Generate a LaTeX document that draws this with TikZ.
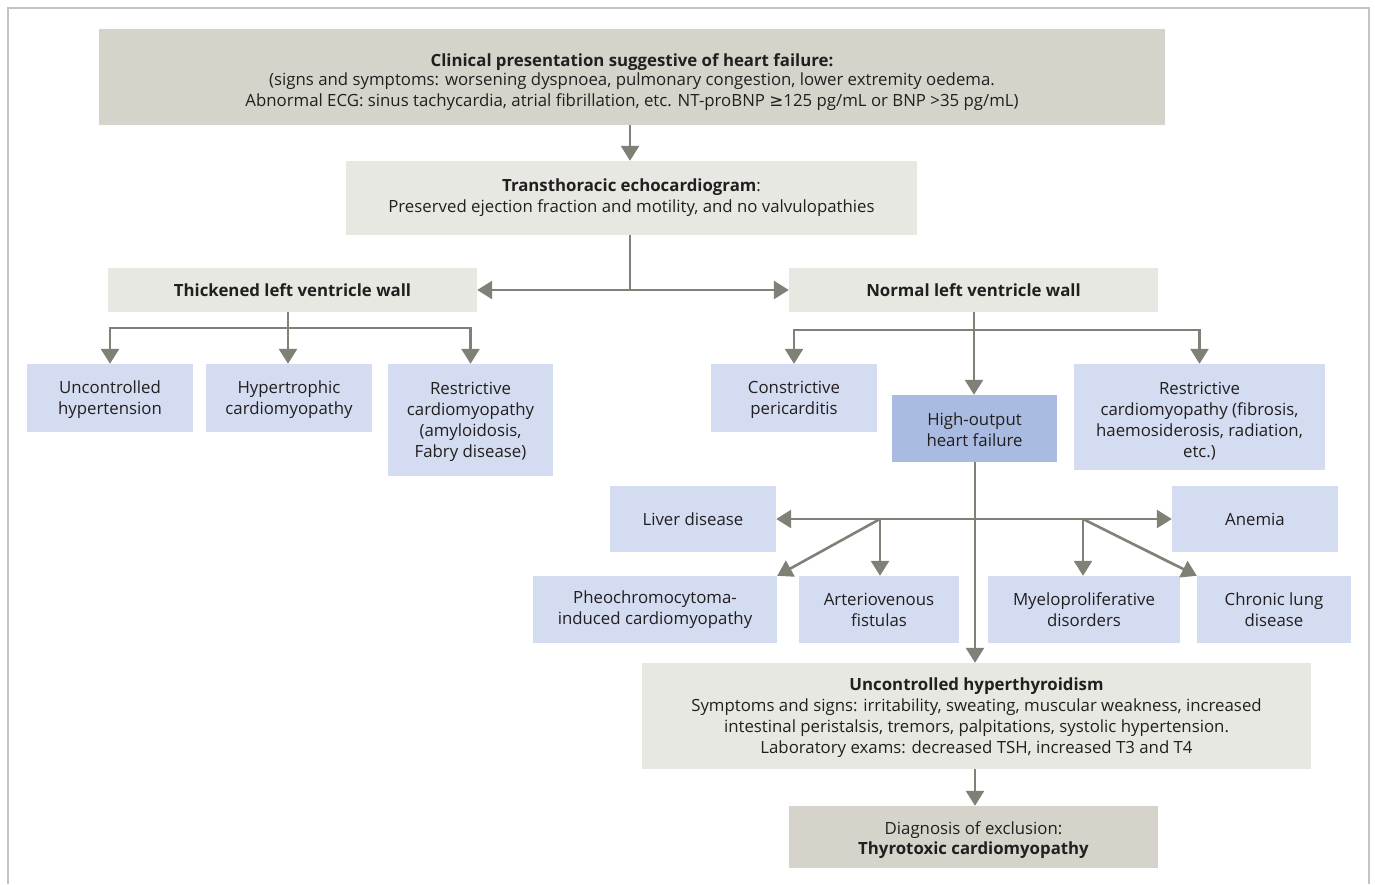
\documentclass[tikz,border=0pt]{standalone}
\usepackage{fontspec}
\setmainfont{Open Sans}
\newfontfamily\symf{DejaVu Sans}
\usetikzlibrary{arrows.meta}
\definecolor{dark}{HTML}{D6D3CB}
\definecolor{light}{HTML}{E8E8E2}
\definecolor{blu}{HTML}{D3DCF0}
\definecolor{blud}{HTML}{A9BBE0}
\definecolor{arrc}{HTML}{7F8177}
\definecolor{framec}{HTML}{C4C4BA}
\definecolor{txt}{HTML}{231F20}
\newcommand{\tsh}[1]{\rule{0pt}{#1pt}}
\tikzset{
  box/.style={inner sep=0pt, align=center, text=txt, font=\fontsize{16.8}{21}\selectfont},
  darkbox/.style={box, fill=dark},
  lightbox/.style={box, fill=light},
  bluebox/.style={box, fill=blu},
  bluedbox/.style={box, fill=blud},
  conn/.style={draw=arrc, line width=2.6pt},
  arr/.style={conn, -{Triangle[width=18pt,length=15pt]}},
  arrs/.style={conn, {Triangle[width=18pt,length=15pt]}-{Triangle[width=18pt,length=15pt]}},
}
\begin{document}
\begin{tikzpicture}[x=1pt,y=-1pt]
\useasboundingbox (0,0) rectangle (1375,884);
\draw[framec, line width=1.5pt] (8,884) -- (8,8) -- (1369,8) -- (1369,884);

\node[darkbox, minimum width=1066pt, minimum height=96pt] (top) at (632,77)
  {\tsh{22.5}\textbf{Clinical presentation suggestive of heart failure:}\\[-2pt]
   (signs and symptoms: worsening dyspnoea, pulmonary congestion, lower extremity oedema.\\
   Abnormal ECG: sinus tachycardia, atrial fibrillation, etc. NT-proBNP {\symf ≥}125 pg/mL or BNP >35 pg/mL)};
\node[lightbox, minimum width=571pt, minimum height=74pt] (echo) at (631.5,198)
  {\textbf{Transthoracic echocardiogram}:\\ Preserved ejection fraction and motility, and no valvulopathies};
\node[lightbox, minimum width=369pt, minimum height=44pt] (thick) at (292.5,290)
  {\textbf{Thickened left ventricle wall}};
\node[lightbox, minimum width=369pt, minimum height=44pt] (normal) at (973.5,290)
  {\textbf{Normal left ventricle wall}};

\node[bluebox, minimum width=166pt, minimum height=68pt] (unc) at (110,398)
  {\tsh{17}Uncontrolled\\hypertension};
\node[bluebox, minimum width=166pt, minimum height=68pt] (hyp) at (289,398)
  {\tsh{17}Hypertrophic\\cardiomyopathy};
\node[bluebox, minimum width=165pt, minimum height=112pt] (restrl) at (470.5,420)
  {\tsh{16.5}Restrictive\\cardiomyopathy\\(amyloidosis,\\Fabry disease)};

\node[bluebox, minimum width=166pt, minimum height=68pt] (constr) at (794,398)
  {\tsh{17}Constrictive\\pericarditis};
\node[bluedbox, minimum width=165pt, minimum height=67pt] (high) at (974.5,428.5)
  {\tsh{14.5}High-output\\heart failure};
\node[bluebox, minimum width=251pt, minimum height=106pt] (restrr) at (1199.5,417)
  {\tsh{20}Restrictive\\cardiomyopathy (fibrosis,\\haemosiderosis, radiation,\\etc.)};

\node[bluebox, minimum width=166pt, minimum height=66pt] (liver) at (693,519) {Liver disease};
\node[bluebox, minimum width=166pt, minimum height=66pt] (anemia) at (1255,519) {Anemia};
\node[bluebox, minimum width=244pt, minimum height=67pt] (pheo) at (655,609.5)
  {Pheochromocytoma-\\induced cardiomyopathy};
\node[bluebox, minimum width=160pt, minimum height=67pt] (arterio) at (879,609.5)
  {Arteriovenous\\fistulas};
\node[bluebox, minimum width=192pt, minimum height=67pt] (myelo) at (1084,609.5)
  {Myeloproliferative\\disorders};
\node[bluebox, minimum width=154pt, minimum height=67pt] (chronic) at (1274,609.5)
  {Chronic lung\\disease};

\node[lightbox, minimum width=669pt, minimum height=106pt] (hyper) at (976.5,716)
  {\tsh{16.5}\textbf{Uncontrolled hyperthyroidism}\\
   Symptoms and signs: irritability, sweating, muscular weakness, increased\\
   intestinal peristalsis, tremors, palpitations, systolic hypertension.\\
   Laboratory exams: decreased TSH, increased T3 and T4};
\node[darkbox, minimum width=369pt, minimum height=62pt] (diag) at (973.5,837)
  {\tsh{19.5}Diagnosis of exclusion:\\[-1pt]\textbf{Thyrotoxic cardiomyopathy}};

% connectors
\draw[arr] (top.south -| 630,0) -- (echo.north -| 630,0);
\draw[arr] (echo.south -| 630,0) |- (thick.east);
\draw[arr] (echo.south -| 630,0) |- (normal.west);

\coordinate (tl) at (288,328);
\draw[conn] (thick.south -| tl) -- (tl);
\draw[arr] (tl) -| (unc.north);
\draw[arr] (tl) -| (restrl.north);
\draw[arr] (tl) -- (hyp.north -| tl);

\coordinate (nl) at (974,330);
\draw[arr] (normal.south -| nl) -- (high.north -| nl);
\draw[arr] (nl) -| (constr.north);
\draw[arr] (nl) -| (restrr.north);

\draw[arr] (high.south -| 975,0) -- (hyper.north -| 975,0);
\draw[arrs] (liver.east) -- (anemia.west);
\coordinate (bl) at (880,519);
\coordinate (br) at (1083,519);
\draw[arr] (bl) -- (arterio.north -| bl);
\draw[arr] (bl) -- (pheo.north east);
\draw[arr] (br) -- (myelo.north -| br);
\draw[arr] (br) -- (chronic.north west);

\draw[arr] (hyper.south -| 975,0) -- (diag.north -| 975,0);
\end{tikzpicture}
\end{document}
